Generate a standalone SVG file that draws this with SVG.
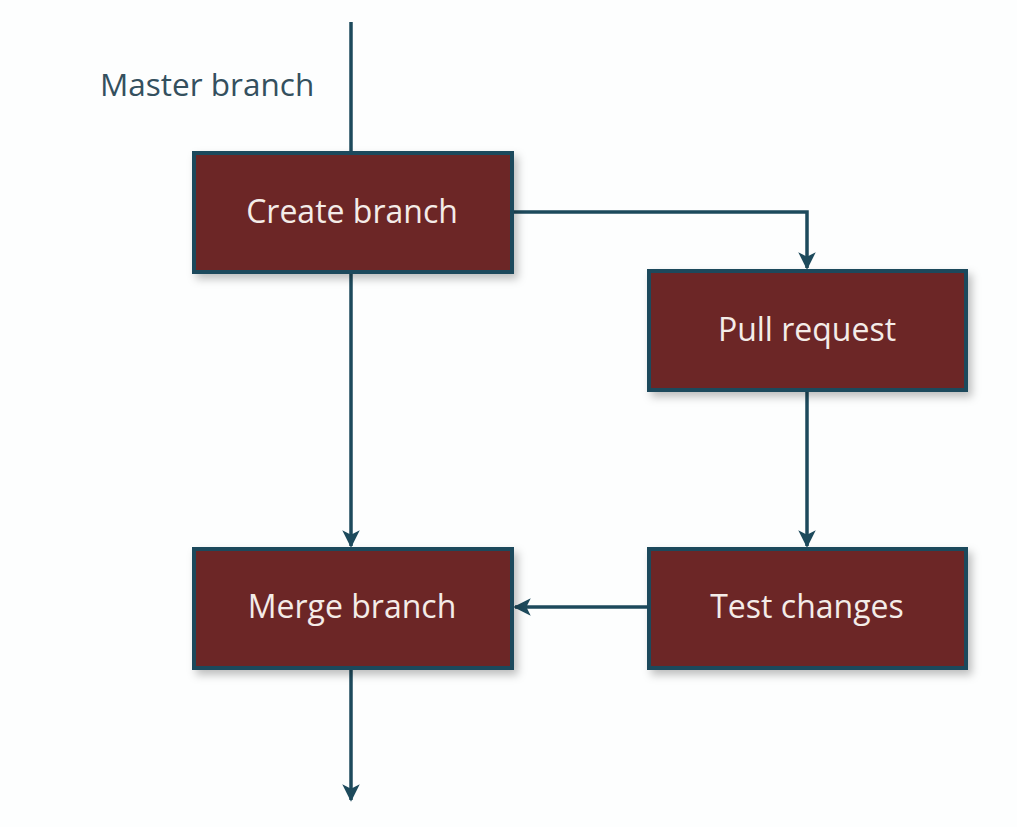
<svg xmlns="http://www.w3.org/2000/svg" width="1017" height="827" viewBox="0 0 1017 827">
<style>
.box{fill:#6c2626;stroke:#1d4a5c;stroke-width:4;filter:url(#sh)}
.lbl{font-family:"Open Sans","Noto Sans",sans-serif;font-size:32px;fill:#f4ece8;text-anchor:middle}
.ln{fill:none;stroke:#1d4a5c;stroke-width:3.5}
</style>
<defs>
<filter id="sh" x="-10%" y="-10%" width="130%" height="140%">
<feDropShadow dx="4" dy="5" stdDeviation="4" flood-color="#000" flood-opacity="0.25"/>
</filter>
<marker id="ah" viewBox="0 0 10 10" refX="9" refY="5" markerWidth="5" markerHeight="5" orient="auto" markerUnits="strokeWidth">
<path d="M0,0 L10,5 L0,10 L2.5,5 Z" fill="#1d4a5c"/>
</marker>
</defs>
<rect width="1017" height="827" fill="#fdfefe"/>
<text x="100" y="96" font-family="'Open Sans','Noto Sans',sans-serif" font-size="31.5" fill="#34505e">Master branch</text>
<g id="connectors">
<line class="ln" x1="351" y1="22" x2="351" y2="152"/>
<polyline class="ln" points="513,212 807,212 807,268" marker-end="url(#ah)"/>
<line class="ln" x1="351" y1="273" x2="351" y2="546" marker-end="url(#ah)"/>
<line class="ln" x1="807" y1="391" x2="807" y2="546" marker-end="url(#ah)"/>
<line class="ln" x1="648" y1="607" x2="515" y2="607" marker-end="url(#ah)"/>
<line class="ln" x1="351" y1="669" x2="351" y2="800" marker-end="url(#ah)"/>
</g>
<g id="create">
<rect class="box" x="194" y="153" width="318" height="119"/>
<text class="lbl" x="352" y="223">Create branch</text>
</g>
<g id="pull">
<rect class="box" x="649" y="271" width="317" height="119"/>
<text class="lbl" x="807" y="341">Pull request</text>
</g>
<g id="merge">
<rect class="box" x="194" y="549" width="318" height="119"/>
<text class="lbl" x="352" y="618">Merge branch</text>
</g>
<g id="test">
<rect class="box" x="649" y="549" width="317" height="119"/>
<text class="lbl" x="807" y="618">Test changes</text>
</g>
</svg>
